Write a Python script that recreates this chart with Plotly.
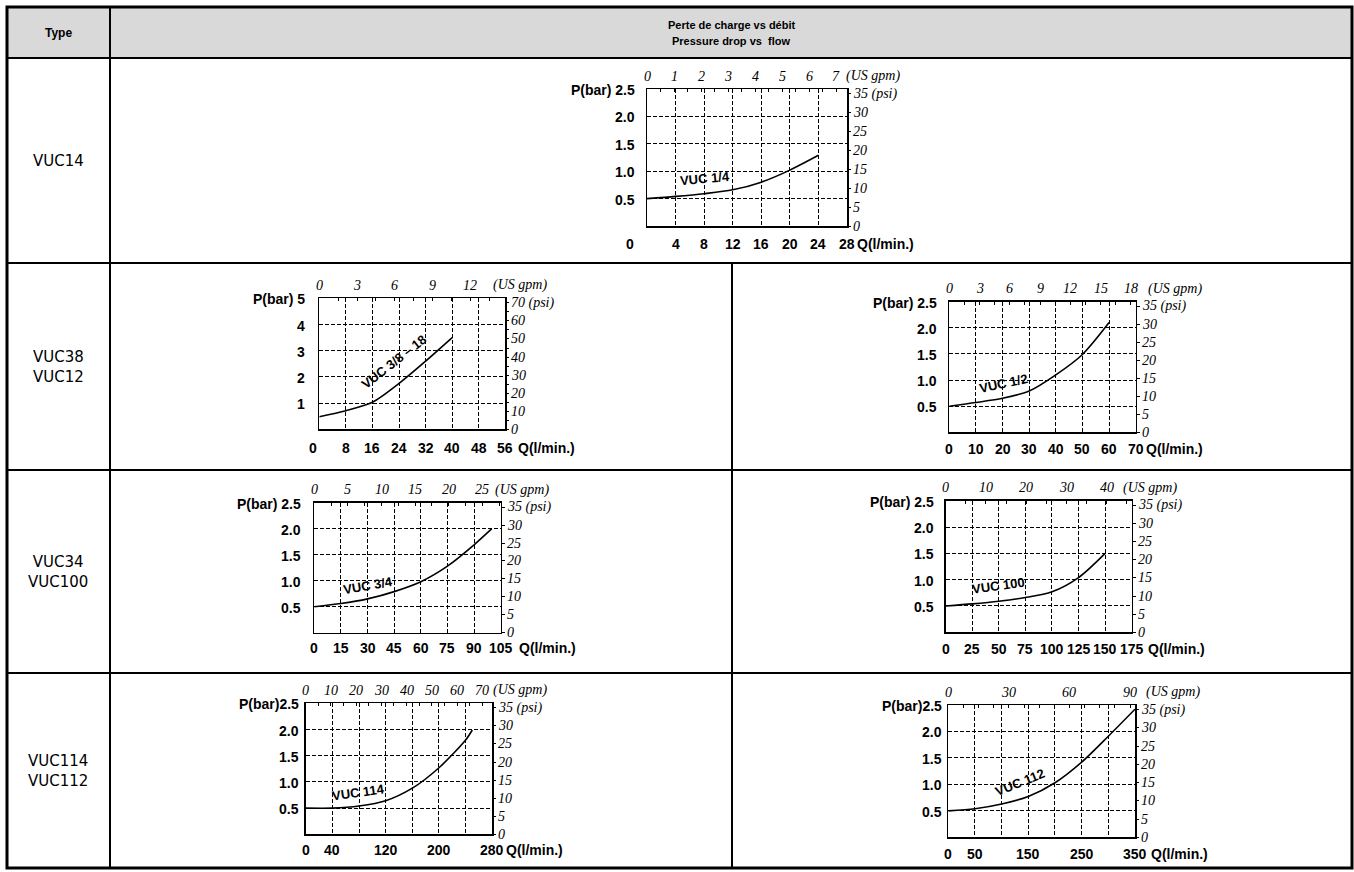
import plotly.graph_objects as go

W, H = 1354, 872
LPM_PER_GPM = 3.78541
PSI_PER_BAR = 14.5038

# ---------------- DATA ----------------
header_type = "Type"
header_title_fr = "Perte de charge vs débit"
header_title_en = "Pressure drop vs  flow"
row_types = ["VUC14", "VUC38<br>VUC12", "VUC34<br>VUC100", "VUC114<br>VUC112"]

curve_names = ["VUC 1/4", "VUC 3/8 – 18", "VUC 1/2", "VUC 3/4", "VUC 100", "VUC 114", "VUC 112"]

q_vuc14 = [0, 4, 8, 12, 16, 20, 24]
p_vuc14 = [0.50, 0.54, 0.59, 0.66, 0.80, 1.02, 1.29]

q_vuc38 = [0, 8, 16, 24, 32, 40]
p_vuc38 = [0.48, 0.71, 1.03, 1.75, 2.60, 3.50]

q_vuc12 = [0, 10, 20, 30, 40, 50, 60]
p_vuc12 = [0.50, 0.57, 0.65, 0.79, 1.10, 1.49, 2.10]

q_vuc34 = [0, 15, 30, 45, 60, 75, 90, 100]
p_vuc34 = [0.50, 0.56, 0.65, 0.79, 0.98, 1.28, 1.69, 2.00]

q_vuc100 = [0, 25, 50, 75, 100, 125, 150]
p_vuc100 = [0.50, 0.54, 0.59, 0.66, 0.77, 1.04, 1.50]

q_vuc114 = [0, 40, 80, 120, 160, 200, 240, 250]
p_vuc114 = [0.50, 0.50, 0.54, 0.64, 0.88, 1.27, 1.80, 1.99]

q_vuc112 = [0, 50, 100, 150, 200, 250, 300, 350]
p_vuc112 = [0.50, 0.54, 0.63, 0.77, 1.03, 1.42, 1.91, 2.42]

# tick labels
q_ticks = [
    [0, 4, 8, 12, 16, 20, 24, 28],
    [0, 8, 16, 24, 32, 40, 48, 56],
    [0, 10, 20, 30, 40, 50, 60, 70],
    [0, 15, 30, 45, 60, 75, 90, 105],
    [0, 25, 50, 75, 100, 125, 150, 175],
    [0, 40, 120, 200, 280],
    [0, 50, 150, 250, 350],
]
bar_ticks_25 = ["0.5", "1.0", "1.5", "2.0", "2.5"]
bar_ticks_5 = ["1", "2", "3", "4", "5"]
bar_ticks = [bar_ticks_25, bar_ticks_5, bar_ticks_25, bar_ticks_25, bar_ticks_25, bar_ticks_25, bar_ticks_25]
gpm_ticks = [
    [0, 1, 2, 3, 4, 5, 6, 7],
    [0, 3, 6, 9, 12],
    [0, 3, 6, 9, 12, 15, 18],
    [0, 5, 10, 15, 20, 25],
    [0, 10, 20, 30, 40],
    [0, 10, 20, 30, 40, 50, 60, 70],
    [0, 30, 60, 90],
]
psi_35 = [0, 5, 10, 15, 20, 25, 30, 35]
psi_70 = [0, 10, 20, 30, 40, 50, 60, 70]
psi_ticks = [psi_35, psi_70, psi_35, psi_35, psi_35, psi_35, psi_35]

series = [
    (q_vuc14, p_vuc14), (q_vuc38, p_vuc38), (q_vuc12, p_vuc12), (q_vuc34, p_vuc34),
    (q_vuc100, p_vuc100), (q_vuc114, p_vuc114), (q_vuc112, p_vuc112),
]

# ---------------- LAYOUT (pixel geometry & styles) ----------------
# box: x0, x1, ytop, ybottom in pixels
cfg = [
    dict(box=(647, 847, 89, 226), xmax=28, ymax=2.5, xg=4, yg=0.5, gm=0.5, boff=18, lgap=10, zshift=-17,
         pb="P(bar) ", ushift=8, qshift=8, lab=(8.1, 0.86), ang=-5),
    dict(box=(319.3, 505.3, 298.3, 429.3), xmax=56, ymax=5, xg=8, yg=1, gm=1.5, boff=19, lgap=12, zshift=-6,
         pb="P(bar) ", ushift=21, qshift=11, lab=(22.6, 2.58), ang=-38),
    dict(box=(949.3, 1135.7, 301.7, 432.3), xmax=70, ymax=2.5, xg=10, yg=0.5, gm=1.5, boff=17, lgap=10, zshift=0,
         pb="P(bar) ", ushift=15, qshift=8, lab=(20.2, 0.93), ang=-12),
    dict(box=(314.3, 500.7, 502.7, 632.7), xmax=105, ymax=2.5, xg=15, yg=0.5, gm=2.5, boff=15, lgap=11, zshift=0,
         pb="P(bar) ", ushift=11, qshift=16, lab=(30.3, 0.91), ang=-10),
    dict(box=(945.7, 1131.7, 500.7, 632.3), xmax=175, ymax=2.5, xg=25, yg=0.5, gm=5, boff=17, lgap=10, zshift=0,
         pb="P(bar) ", ushift=14, qshift=14, lab=(50.1, 0.88), ang=-8),
    dict(box=(305.7, 492.3, 703.3, 834.3), xmax=280, ymax=2.5, xg=40, yg=0.5, gm=5, boff=16, lgap=5, zshift=0,
         pb="P(bar)", ushift=9, qshift=12, lab=(78.5, 0.79), ang=-8),
    dict(box=(948.3, 1135, 705, 837.3), xmax=350, ymax=2.5, xg=50, yg=0.5, gm=7.5, boff=17, lgap=4, zshift=0,
         pb="P(bar)", ushift=14, qshift=14, lab=(134, 1.03), ang=-22),
]

BOLD = "Liberation Sans"
SERIF = "Liberation Serif"
BLACK = "#000000"

fig = go.Figure()
layout = {}
annotations = []
shapes = []


def px(x):
    return x / W


def py(y):
    return 1 - y / H


for i, (c, (q, p)) in enumerate(zip(cfg, series)):
    xa = 2 * i + 1
    ya = 2 * i + 1
    x0, x1, yt, yb = c["box"]
    xmain, xtop = f"x{xa}", f"x{xa + 1}"
    ymain, yright = f"y{ya}", f"y{ya + 1}"
    xmain_k = "xaxis" if xa == 1 else f"xaxis{xa}"
    ymain_k = "yaxis" if ya == 1 else f"yaxis{ya}"

    layout[xmain_k] = dict(
        domain=[px(x0), px(x1)], range=[0, c["xmax"]], anchor=ymain,
        showgrid=True, gridcolor=BLACK, gridwidth=1, griddash="4px,2px",
        tick0=0, dtick=c["xg"], showticklabels=False, ticks="",
        showline=True, linecolor=BLACK, linewidth=1.5, mirror=True, zeroline=False,
        fixedrange=True,
    )
    layout[ymain_k] = dict(
        domain=[py(yb), py(yt)], range=[0, c["ymax"]], anchor=xmain,
        showgrid=True, gridcolor=BLACK, gridwidth=1, griddash="4px,2px",
        tick0=0, dtick=c["yg"], showticklabels=False, ticks="",
        showline=True, linecolor=BLACK, linewidth=1.5, mirror=True, zeroline=False,
        fixedrange=True,
    )
    layout[f"xaxis{xa + 1}"] = dict(
        overlaying=xmain, side="top", anchor=ymain,
        range=[0, c["xmax"] / LPM_PER_GPM], tick0=0, dtick=c["gm"],
        ticks="inside", ticklen=3, tickwidth=1, tickcolor=BLACK,
        showticklabels=False, showgrid=False, showline=False, zeroline=False, fixedrange=True,
    )
    layout[f"yaxis{ya + 1}"] = dict(
        overlaying=ymain, side="right", anchor=xmain,
        range=[0, c["ymax"] * PSI_PER_BAR], tick0=0, dtick=5,
        ticks="outside", ticklen=3, tickwidth=1, tickcolor=BLACK,
        showticklabels=False, showgrid=False, showline=False, zeroline=False, fixedrange=True,
    )

    # curve
    fig.add_trace(go.Scatter(
        x=q, y=p, xaxis=xmain, yaxis=ymain, mode="lines",
        line=dict(color=BLACK, width=1.6, shape="spline", smoothing=0.8),
        showlegend=False, hoverinfo="skip",
    ))
    # dummy traces for the secondary axes
    fig.add_trace(go.Scatter(x=[None], y=[None], xaxis=xtop, yaxis=ymain, showlegend=False, hoverinfo="skip"))
    fig.add_trace(go.Scatter(x=[None], y=[None], xaxis=xmain, yaxis=yright, showlegend=False, hoverinfo="skip"))

    # curve label
    annotations.append(dict(
        x=c["lab"][0], y=c["lab"][1], xref=xmain, yref=ymain, text=f"<b>{curve_names[i]}</b>",
        showarrow=False, textangle=c["ang"], font=dict(family=BOLD, size=13, color=BLACK),
        xanchor="center", yanchor="middle",
    ))

    # bottom (l/min) labels
    for v in q_ticks[i]:
        annotations.append(dict(
            x=v, y=0, xref=xmain, yref=ymain, text=f"<b>{v}</b>", showarrow=False,
            xanchor="center", yanchor="middle", yshift=-c["boff"],
            xshift=c["zshift"] if v == 0 else 0,
            font=dict(family=BOLD, size=14, color=BLACK),
        ))
    annotations.append(dict(
        x=c["xmax"], y=0, xref=xmain, yref=ymain, text="<b>Q(l/min.)</b>", showarrow=False,
        xanchor="left", yanchor="middle", yshift=-c["boff"], xshift=c["qshift"],
        font=dict(family=BOLD, size=14, color=BLACK),
    ))

    # left (bar) labels
    nb = len(bar_ticks[i])
    for k, t in enumerate(bar_ticks[i]):
        val = float(t)
        txt = (c["pb"] + t) if k == nb - 1 else t
        annotations.append(dict(
            x=0, y=val, xref=xmain, yref=ymain, text=f"<b>{txt}</b>", showarrow=False,
            xanchor="right", yanchor="middle", xshift=-c["lgap"], yshift=-1,
            font=dict(family=BOLD, size=14, color=BLACK),
        ))

    # top (US gpm) labels
    for v in gpm_ticks[i]:
        annotations.append(dict(
            x=v, y=c["ymax"], xref=xtop, yref=ymain, text=f"<i>{v}</i>", showarrow=False,
            xanchor="center", yanchor="middle", yshift=13,
            font=dict(family=SERIF, size=14, color=BLACK),
        ))
    annotations.append(dict(
        x=gpm_ticks[i][-1], y=c["ymax"], xref=xtop, yref=ymain, text="<i>(US gpm)</i>", showarrow=False,
        xanchor="left", yanchor="middle", yshift=13, xshift=c["ushift"],
        font=dict(family=SERIF, size=14, color=BLACK),
    ))

    # right (psi) labels
    npsi = len(psi_ticks[i])
    for k, v in enumerate(psi_ticks[i]):
        txt = f"{v} (psi)" if k == npsi - 1 else f"{v}"
        annotations.append(dict(
            x=c["xmax"], y=v, xref=xmain, yref=yright, text=f"<i>{txt}</i>", showarrow=False,
            xanchor="left", yanchor="middle", xshift=4,
            font=dict(family=SERIF, size=14, color=BLACK),
        ))

# ---------------- TABLE ----------------
T_L, T_R, T_T, T_B = 7, 1352, 7, 868
COL1 = 110
MID = 732
ROWS = [58, 263, 470, 673]

shapes.append(dict(type="rect", xref="paper", yref="paper", x0=px(T_L), x1=px(T_R), y0=py(ROWS[0]), y1=py(T_T),
                   fillcolor="#d9d9d9", line=dict(width=0), layer="below"))
for yv in ROWS:
    shapes.append(dict(type="line", xref="paper", yref="paper", x0=px(T_L), x1=px(T_R), y0=py(yv), y1=py(yv),
                       line=dict(color=BLACK, width=2)))
shapes.append(dict(type="line", xref="paper", yref="paper", x0=px(COL1), x1=px(COL1), y0=py(T_T), y1=py(T_B),
                   line=dict(color=BLACK, width=2)))
shapes.append(dict(type="line", xref="paper", yref="paper", x0=px(MID), x1=px(MID), y0=py(ROWS[1]), y1=py(T_B),
                   line=dict(color=BLACK, width=2)))
shapes.append(dict(type="rect", xref="paper", yref="paper", x0=px(T_L), x1=px(T_R), y0=py(T_B), y1=py(T_T),
                   line=dict(color=BLACK, width=3)))

annotations.append(dict(x=px((T_L + COL1) / 2), y=py(33), xref="paper", yref="paper",
                        text=f"<b>{header_type}</b>", showarrow=False, xanchor="center", yanchor="middle",
                        font=dict(family=BOLD, size=12, color=BLACK)))
annotations.append(dict(x=px((COL1 + T_R) / 2), y=py(25), xref="paper", yref="paper",
                        text=f"<b>{header_title_fr}</b>", showarrow=False, xanchor="center", yanchor="middle",
                        font=dict(family=BOLD, size=11, color=BLACK)))
annotations.append(dict(x=px((COL1 + T_R) / 2), y=py(41), xref="paper", yref="paper",
                        text=f"<b>{header_title_en}</b>", showarrow=False, xanchor="center", yanchor="middle",
                        font=dict(family=BOLD, size=11, color=BLACK)))
row_bounds = [ROWS[0], ROWS[1], ROWS[2], ROWS[3], T_B]
for k, t in enumerate(row_types):
    annotations.append(dict(x=px((T_L + COL1) / 2), y=py((row_bounds[k] + row_bounds[k + 1]) / 2),
                            xref="paper", yref="paper", text=t, showarrow=False,
                            xanchor="center", yanchor="middle",
                            font=dict(family="DejaVu Sans", size=15, color=BLACK)))

fig.update_layout(
    width=W, height=H, autosize=False,
    margin=dict(l=0, r=0, t=0, b=0, pad=0),
    paper_bgcolor="white", plot_bgcolor="rgba(0,0,0,0)",
    showlegend=False,
    annotations=annotations, shapes=shapes,
    **layout,
)

fig.write_html("out.html", config={"displayModeBar": False, "staticPlot": True},
               post_script="document.body.style.margin='0';document.body.style.overflow='hidden';")
